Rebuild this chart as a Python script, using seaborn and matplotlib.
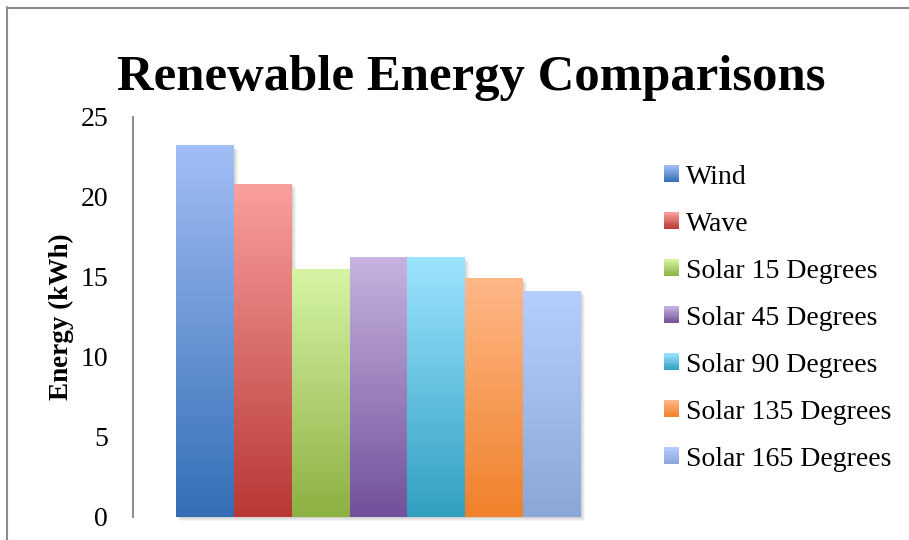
import numpy as np
import pandas as pd
import matplotlib
matplotlib.use("Agg")
import matplotlib.pyplot as plt
import seaborn as sns
from matplotlib.colors import to_rgb
from matplotlib.patches import Rectangle
from matplotlib.lines import Line2D
from matplotlib.legend_handler import HandlerBase

# Data
sources = ["Wind", "Wave", "Solar 15 Degrees", "Solar 45 Degrees",
           "Solar 90 Degrees", "Solar 135 Degrees", "Solar 165 Degrees"]
energy_kwh = [23.2, 20.8, 15.5, 16.2, 16.2, 14.9, 14.1]
top_colors = ["#A2BEF6", "#F9A09E", "#D5F5A5", "#C7B3E0",
              "#9DE4FF", "#FFB888", "#B6CEFE"]
bottom_colors = ["#346EB5", "#B83835", "#8DB043", "#71519A",
                 "#31A0C0", "#F0812A", "#8BA7D6"]
y_ticks = [0, 5, 10, 15, 20, 25]

sns.set_theme(style="white")
plt.rcParams["font.family"] = ["Liberation Serif", "DejaVu Serif"]
plt.rcParams["text.color"] = "black"

W, H = 909, 540
fig = plt.figure(figsize=(W / 100, H / 100), dpi=100)
fig.patch.set_facecolor("white")
ax = fig.add_axes([133 / W, 23 / H, 491 / W, 400 / H])

df = pd.DataFrame({"group": [""] * len(sources), "source": sources,
                   "energy": energy_kwh})
sns.barplot(data=df, x="group", y="energy", hue="source", hue_order=sources,
            palette=top_colors, width=0.823, dodge=True, errorbar=None,
            saturation=1, legend=False, ax=ax)


def gradient_strip(c_top, c_bot, n=256):
    t = np.linspace(0, 1, n)[:, None]
    top = np.array(to_rgb(c_top))
    bot = np.array(to_rgb(c_bot))
    return (top * (1 - t) + bot * t)[:, None, :]


# Replace flat fills with vertical gradients and add a soft drop shadow
px_x = 1 / 491
px_y = 25 / 400
bars = list(ax.patches)
for bar, ct, cb in zip(bars, top_colors, bottom_colors):
    x0, w, h = bar.get_x(), bar.get_width(), bar.get_height()
    for k in range(1, 5):
        ax.add_patch(Rectangle((x0 + k * px_x, -k * px_y), w, h,
                               facecolor="black", edgecolor="none",
                               alpha=0.045, zorder=0.5, clip_on=False))
    ax.imshow(gradient_strip(ct, cb), extent=(x0, x0 + w, 0, h),
              aspect="auto", origin="upper", zorder=1, interpolation="bilinear")
    bar.set_facecolor("none")
    bar.set_edgecolor("none")

ax.set_xlim(-0.5, 0.5)
ax.set_ylim(0, 25)
ax.set_yticks(y_ticks)
ax.set_xticks([])
ax.set_xlabel("")
ax.tick_params(axis="y", length=0, pad=18, labelsize=20, colors="black")

for side in ["top", "right", "bottom"]:
    ax.spines[side].set_visible(False)
ax.spines["left"].set_color("#8c8c8c")
ax.spines["left"].set_linewidth(1.4)

ax.set_ylabel("Energy (kWh)", fontsize=19.5, fontweight="bold", color="black")
ax.yaxis.set_label_coords(-72 / 491, 0.5)
ax.yaxis.label.set_va("center")

fig.text(471 / W, 450 / H, "Renewable Energy Comparisons", ha="center",
         va="baseline", fontsize=36.5, fontweight="bold", color="black")


class GradientHandler(HandlerBase):
    def __init__(self, c_top, c_bot, n=14):
        super().__init__()
        self.top = np.array(to_rgb(c_top))
        self.bot = np.array(to_rgb(c_bot))
        self.n = n

    def create_artists(self, legend, orig_handle, xdescent, ydescent,
                       width, height, fontsize, trans):
        arts = []
        for i in range(self.n):
            t = (i + 0.5) / self.n
            col = self.top * (1 - t) + self.bot * t
            y = -ydescent + height * (1 - (i + 1) / self.n)
            arts.append(Rectangle((-xdescent, y), width, height / self.n + 0.3,
                                  facecolor=col, edgecolor="none",
                                  transform=trans))
        return arts


handles = [Rectangle((0, 0), 1, 1) for _ in sources]
hmap = {h: GradientHandler(ct, cb)
        for h, ct, cb in zip(handles, top_colors, bottom_colors)}
fig.legend(handles, sources, handler_map=hmap, loc="upper left",
           bbox_to_anchor=(664 / W, 1 - 165 / H), frameon=False,
           fontsize=20, handlelength=0.54, handleheight=0.54,
           handletextpad=0.26, labelspacing=0.79, borderpad=0,
           borderaxespad=0, labelcolor="black")

# Chart frame (top and left edges)
frame_col = "#8c8c8c"
fig.add_artist(Line2D([7 / W, 1], [1 - 7.5 / H, 1 - 7.5 / H],
                      transform=fig.transFigure, color=frame_col, lw=1.5))
fig.add_artist(Line2D([7.5 / W, 7.5 / W], [0, 1 - 7 / H],
                      transform=fig.transFigure, color=frame_col, lw=1.5))

fig.savefig("out.png", dpi=100)
